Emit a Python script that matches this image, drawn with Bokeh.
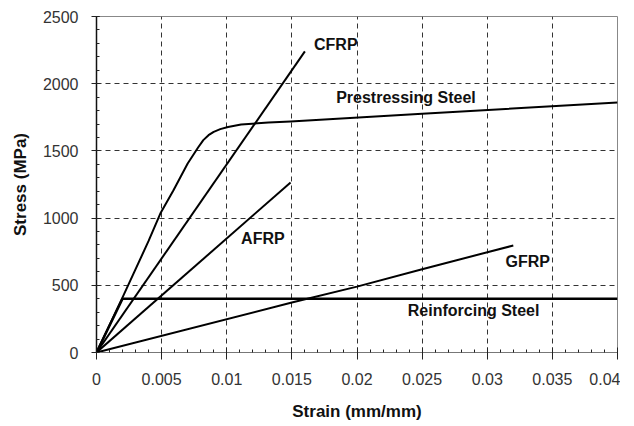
from bokeh.plotting import figure
from bokeh.models import ColumnDataSource, FixedTicker, Range1d, Label
from bokeh.embed import file_html
from bokeh.resources import INLINE

# ---- data (strain mm/mm, stress MPa) ----
cfrp_strain = [0.0, 0.016]
cfrp_stress = [0.0, 2240.0]

afrp_strain = [0.0, 0.0149]
afrp_stress = [0.0, 1265.0]

gfrp_strain = [0.0, 0.015, 0.020, 0.025, 0.032]
gfrp_stress = [0.0, 372.0, 490.0, 620.0, 796.0]

ps_strain = [0.0, 0.002, 0.004, 0.0049, 0.0059, 0.0070, 0.0078, 0.0082, 0.0086,
             0.0090, 0.0095, 0.0101, 0.0111, 0.0132, 0.0149, 0.025, 0.040]
ps_stress = [0.0, 410.0, 830.0, 1034.0, 1205.0, 1406.0, 1525.0, 1580.0, 1617.0,
             1642.0, 1662.0, 1678.0, 1696.0, 1711.0, 1719.0, 1776.0, 1860.0]

rs_strain = [0.0, 0.002, 0.040]
rs_stress = [0.0, 400.0, 400.0]

x_ticks = [0.0, 0.005, 0.01, 0.015, 0.02, 0.025, 0.03, 0.035, 0.04]
x_tick_labels = ["0", "0.005", "0.01", "0.015", "0.02", "0.025", "0.03", "0.035", "0.04"]
y_ticks = [0, 500, 1000, 1500, 2000, 2500]
y_tick_labels = ["0", "500", "1000", "1500", "2000", "2500"]

FONT = "Liberation Sans"

p = figure(width=620, height=424, output_backend="svg", toolbar_location=None,
           x_range=Range1d(0, 0.04), y_range=Range1d(0, 2500),
           min_border_left=96, min_border_right=3, min_border_top=16,
           min_border_bottom=72)
p.outline_line_color = "#888888"
p.outline_line_width = 1
p.background_fill_color = "white"
p.border_fill_color = "white"

# grids
for g in (p.xgrid, p.ygrid):
    g.grid_line_color = "#333333"
    g.grid_line_dash = "5 4"
    g.grid_line_width = 1
p.xgrid.ticker = FixedTicker(ticks=x_ticks[1:-1])
p.ygrid.ticker = FixedTicker(ticks=y_ticks[1:-1])

# axes
xa = p.xaxis[0]
xa.ticker = FixedTicker(ticks=x_ticks, minor_ticks=[i * 0.001 for i in range(41)])
xa.major_label_overrides = {t: l for t, l in zip(x_ticks, x_tick_labels)}
ya = p.yaxis[0]
ya.ticker = FixedTicker(ticks=y_ticks, minor_ticks=[i * 100 for i in range(26)])
ya.major_label_overrides = {t: l for t, l in zip(y_ticks, y_tick_labels)}

for ax in (xa, ya):
    ax.major_label_text_font = FONT
    ax.major_label_text_font_size = "16px"
    ax.major_label_text_color = "#333333"
    ax.axis_label_text_font = FONT
    ax.axis_label_text_font_size = "17px"
    ax.axis_label_text_font_style = "bold"
    ax.axis_label_text_color = "#111111"
    ax.minor_tick_out = 0
    ax.minor_tick_in = 3
    ax.major_tick_line_color = "#222222"
    ax.minor_tick_line_color = "#222222"

xa.axis_label = "Strain (mm/mm)"
xa.axis_line_color = "#777777"
xa.major_tick_in = 5
xa.major_tick_out = 7
xa.major_label_standoff = 13
xa.axis_label_standoff = 14

ya.axis_label = "Stress (MPa)"
ya.axis_line_color = "#111111"
ya.axis_line_width = 1.5
ya.major_tick_in = 3
ya.major_tick_out = 5
ya.major_label_standoff = 13
ya.axis_label_standoff = 10

# curves
series = [
    (cfrp_strain, cfrp_stress, 2),
    (afrp_strain, afrp_stress, 2),
    (gfrp_strain, gfrp_stress, 2),
    (ps_strain, ps_stress, 2),
    (rs_strain, rs_stress, 2.5),
]
for xs, ys, w in series:
    src = ColumnDataSource(data=dict(x=xs, y=ys))
    p.line("x", "y", source=src, line_color="black", line_width=w,
           line_join="round")

# labels
labels = [
    ("CFRP", 0.0167, 2292),
    ("Prestressing Steel", 0.0184, 1897),
    ("AFRP", 0.0111, 848),
    ("GFRP", 0.0314, 677),
    ("Reinforcing Steel", 0.0239, 312),
]
for txt, lx, ly in labels:
    p.add_layout(Label(x=lx, y=ly, text=txt, text_font=FONT, text_font_size="16px",
                       text_font_style="bold", text_color="#111111",
                       text_baseline="middle", text_align="left"))

open("out.html", "w").write(file_html(p, INLINE))
